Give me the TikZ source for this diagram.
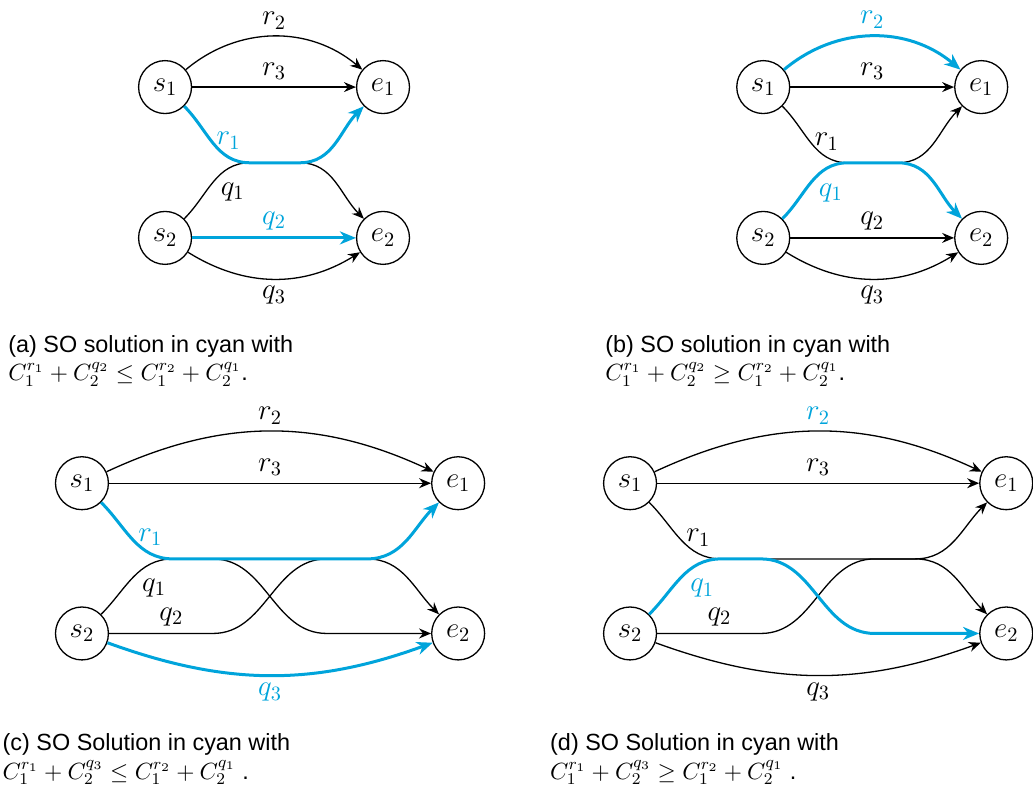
\RequirePackage{fix-cm}
\documentclass[tikz,border=0pt]{standalone}
\usepackage[no-math]{fontspec}
\setmainfont{Liberation Sans}
\usetikzlibrary{positioning,arrows.meta}
\definecolor{socyan}{RGB}{0,164,219}

\begin{document}
\begin{tikzpicture}[main/.style = {draw, circle, minimum size=0.93cm, inner sep=0pt, line width=0.65pt},
  link/.style = {line width=0.65pt, -{Stealth[length=6pt,width=5pt,inset=2pt]}},
  solink/.style = {socyan, line width=1.5pt, -{Stealth[length=8pt,width=6.5pt,inset=2.5pt]}},
  caption/.style = {anchor=base west, inner sep=0pt, font=\fontsize{11.7}{14}\selectfont},
  qlabel/.style = {pos=0.72, below, xshift=3pt, yshift=-3pt},
  on grid, font=\fontsize{14.5}{17}\selectfont]
\useasboundingbox (0,0) rectangle (18.15,-13.88);

% (a)
\begin{scope}[shift={(2.90,-1.53)}]
\node[main] (as1) {$s_1$};
\node[main] (ae1) [right=3.83cm of as1] {$e_1$};
\node[main] (as2) [below=2.65cm of as1] {$s_2$};
\node[main] (ae2) [right=3.83cm of as2] {$e_2$};
\coordinate (am1) at (1.49,-1.33);
\coordinate (am2) at (2.37,-1.33);
\draw[link] (as1) to[bend left=40] node[above] (ar2) {$r_2$} (ae1);
\draw[link] (as1) -- node[above] (ar3) {$r_3$} (ae1);
\draw[link] (as2) to[out=45,in=180] node[qlabel] (aq1) {$q_1$} (am1) -- (am2) to[out=0,in=135] (ae2);
\draw[link] (as2) to[bend right=32] node[below] (aq3) {$q_3$} (ae2);
\draw[solink] (as2) -- node[above] (aq2) {$q_2$} (ae2);
\draw[solink] (as1) to[out=-45,in=180] node[pos=0.75,above] (ar1) {$r_1$} (am1) -- (am2) to[out=0,in=-135] (ae1);
\end{scope}

% (b)
\begin{scope}[shift={(13.41,-1.53)}]
\node[main] (bs1) {$s_1$};
\node[main] (be1) [right=3.83cm of bs1] {$e_1$};
\node[main] (bs2) [below=2.65cm of bs1] {$s_2$};
\node[main] (be2) [right=3.83cm of bs2] {$e_2$};
\coordinate (bm1) at (1.49,-1.33);
\coordinate (bm2) at (2.37,-1.33);
\draw[link] (bs1) -- node[above] (br3) {$r_3$} (be1);
\draw[link] (bs1) to[out=-45,in=180] node[pos=0.75,above] (br1) {$r_1$} (bm1) -- (bm2) to[out=0,in=-135] (be1);
\draw[link] (bs2) -- node[above] (bq2) {$q_2$} (be2);
\draw[link] (bs2) to[bend right=32] node[below] (bq3) {$q_3$} (be2);
\draw[solink] (bs1) to[bend left=40] node[above] (br2) {$r_2$} (be1);
\draw[solink] (bs2) to[out=45,in=180] node[qlabel] (bq1) {$q_1$} (bm1) -- (bm2) to[out=0,in=135] (be2);
\end{scope}

% (c)
\begin{scope}[shift={(1.44,-8.49)}]
\node[main] (cs1) {$s_1$};
\node[main] (ce1) [right=6.61cm of cs1] {$e_1$};
\node[main] (cs2) [below=2.64cm of cs1] {$s_2$};
\node[main] (ce2) [right=6.61cm of cs2] {$e_2$};
\coordinate (cm1) at (1.60,-1.33);
\coordinate (cm2) at (2.30,-1.33);
\coordinate (cm3) at (4.30,-1.33);
\coordinate (cm4) at (5.01,-1.33);
\coordinate (cb1) at (2.30,-2.64);
\coordinate (cb2) at (4.30,-2.64);
\draw[link] (cs1) to[bend left=25] node[above] (cr2) {$r_2$} (ce1);
\draw[link] (cs1) -- node[above] (cr3) {$r_3$} (ce1);
\draw[link] (cs2) to[out=45,in=180] node[qlabel] (cq1) {$q_1$} (cm1) -- (cm2) to[out=0,in=180] (cb2) -- (ce2);
\draw[link] (cs2) -- node[pos=0.6,above] (cq2) {$q_2$} (cb1) to[out=0,in=180] (cm3) -- (cm4) to[out=0,in=135] (ce2);
\draw[solink] (cs1) to[out=-45,in=180] node[pos=0.75,above] (cr1) {$r_1$} (cm1) -- (cm4) to[out=0,in=-135] (ce1);
\draw[solink] (cs2) to[bend right=20] node[below] (cq3) {$q_3$} (ce2);
\end{scope}

% (d)
\begin{scope}[shift={(11.07,-8.49)}]
\node[main] (ds1) {$s_1$};
\node[main] (de1) [right=6.61cm of ds1] {$e_1$};
\node[main] (ds2) [below=2.64cm of ds1] {$s_2$};
\node[main] (de2) [right=6.61cm of ds2] {$e_2$};
\coordinate (dm1) at (1.60,-1.33);
\coordinate (dm2) at (2.30,-1.33);
\coordinate (dm3) at (4.30,-1.33);
\coordinate (dm4) at (5.01,-1.33);
\coordinate (db1) at (2.30,-2.64);
\coordinate (db2) at (4.30,-2.64);
\draw[link] (ds1) to[bend left=25] node[above, text=socyan] (dr2) {$r_2$} (de1);
\draw[link] (ds1) -- node[above] (dr3) {$r_3$} (de1);
\draw[link] (ds1) to[out=-45,in=180] node[pos=0.75,above] (dr1) {$r_1$} (dm1) -- (dm4) to[out=0,in=-135] (de1);
\draw[link] (ds2) -- node[pos=0.6,above] (dq2) {$q_2$} (db1) to[out=0,in=180] (dm3) -- (dm4) to[out=0,in=135] (de2);
\draw[link] (ds2) to[bend right=20] node[below] (dq3) {$q_3$} (de2);
\draw[solink] (ds2) to[out=45,in=180] node[qlabel] (dq1) {$q_1$} (dm1) -- (dm2) to[out=0,in=180] (db2) -- (de2);
\end{scope}

% captions
\node[caption] (capa) at (0.14,-6.19) {(a) SO solution in cyan with};
\node[caption] (capa2) at (0.14,-6.69) {$C_1^{r_1} + C_2^{q_2} \leq C_1^{r_2} + C_2^{q_1}$.};
\node[caption] (capb) at (10.63,-6.19) {(b) SO solution in cyan with};
\node[caption] (capb2) at (10.63,-6.69) {$C_1^{r_1} + C_2^{q_2} \geq C_1^{r_2} + C_2^{q_1}$.};
\node[caption] (capc) at (0.04,-13.19) {(c) SO Solution in cyan with};
\node[caption] (capc2) at (0.04,-13.69) {$C_1^{r_1} + C_2^{q_3} \leq C_1^{r_2} + C_2^{q_1}$ .};
\node[caption] (capd) at (9.66,-13.19) {(d) SO Solution in cyan with};
\node[caption] (capd2) at (9.66,-13.69) {$C_1^{r_1} + C_2^{q_3} \geq C_1^{r_2} + C_2^{q_1}$ .};
\end{tikzpicture}
\end{document}
